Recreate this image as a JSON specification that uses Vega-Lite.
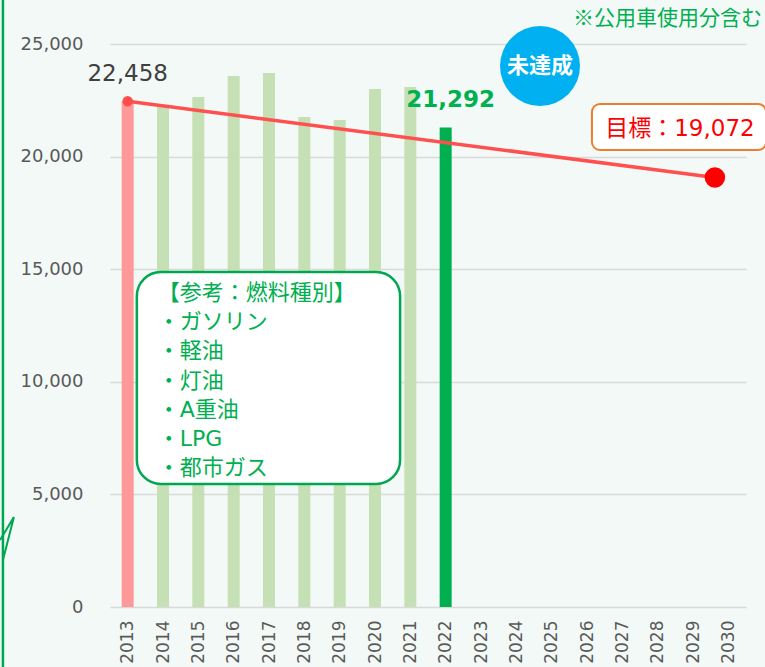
{
  "$schema": "https://vega.github.io/schema/vega-lite/v6.json",
  "width": 636,
  "height": 563,
  "autosize": {"type": "none"},
  "padding": {"left": 110, "top": 44, "right": 19, "bottom": 60},
  "background": "#f3f9f6",
  "config": {"view": {"stroke": null}, "font": "DejaVu Sans"},
  "datasets": {
    "bars": [
      {"year": 2013, "value": 22458, "kind": "基準年"},
      {"year": 2014, "value": 22200, "kind": "実績"},
      {"year": 2015, "value": 22650, "kind": "実績"},
      {"year": 2016, "value": 23580, "kind": "実績"},
      {"year": 2017, "value": 23710, "kind": "実績"},
      {"year": 2018, "value": 21760, "kind": "実績"},
      {"year": 2019, "value": 21620, "kind": "実績"},
      {"year": 2020, "value": 23000, "kind": "実績"},
      {"year": 2021, "value": 23090, "kind": "実績"},
      {"year": 2022, "value": 21292, "kind": "最新"}
    ],
    "goal": [
      {"year": 2013, "value": 22458},
      {"year": 2029.62, "value": 19072}
    ]
  },
  "encoding": {
    "x": {
      "field": "year",
      "type": "quantitative",
      "title": null,
      "scale": {"domain": [2012.5, 2030.5], "nice": false, "zero": false, "padding": 0},
      "axis": {
        "values": [2013, 2014, 2015, 2016, 2017, 2018, 2019, 2020, 2021, 2022, 2023, 2024, 2025, 2026, 2027, 2028, 2029, 2030],
        "format": "d",
        "labelAngle": -90,
        "labelFont": "DejaVu Sans",
        "labelFontSize": 17,
        "labelColor": "#595959",
        "labelPadding": 13,
        "ticks": false,
        "domain": false,
        "grid": false,
        "labelFlush": false,
        "labelOverlap": false
      }
    },
    "y": {
      "field": "value",
      "type": "quantitative",
      "title": null,
      "scale": {"domain": [0, 25000], "nice": false, "padding": 0},
      "axis": {
        "values": [0, 5000, 10000, 15000, 20000, 25000],
        "format": ",.0f",
        "labelFont": "DejaVu Sans",
        "labelFontSize": 18,
        "labelColor": "#595959",
        "labelPadding": 27,
        "ticks": false,
        "domain": false,
        "grid": true,
        "gridColor": "#d9d9d9",
        "gridWidth": 1.5
      }
    }
  },
  "layer": [
    {
      "data": {"name": "bars"},
      "mark": {"type": "bar", "size": 12, "orient": "vertical"},
      "encoding": {
        "color": {
          "field": "kind",
          "type": "nominal",
          "scale": {"domain": ["基準年", "実績", "最新"], "range": ["#ff9999", "#c5e0b4", "#00b050"]},
          "legend": null
        }
      }
    },
    {
      "data": {"values": [
        {"year": 2009.47, "value": 26954, "o": 1},
        {"year": 2009.47, "value": -2664, "o": 2}
      ]},
      "mark": {"type": "line", "color": "#00a651", "strokeWidth": 2.5, "clip": false},
      "encoding": {"order": {"field": "o", "type": "quantitative"}}
    },
    {
      "data": {"values": [
        {"year": 2009.39, "value": 2975, "o": 1},
        {"year": 2009.78, "value": 3996, "o": 2},
        {"year": 2009.47, "value": 2087, "o": 3}
      ]},
      "mark": {"type": "line", "color": "#00a651", "strokeWidth": 2, "clip": false},
      "encoding": {"order": {"field": "o", "type": "quantitative"}}
    },
    {
      "data": {"name": "goal"},
      "mark": {"type": "line", "color": "#ff5050", "strokeWidth": 3.5},
      "encoding": {}
    },
    {
      "data": {"values": [{"year": 2013, "value": 22458}]},
      "mark": {"type": "point", "filled": true, "color": "#ff4d4d", "size": 110, "opacity": 1},
      "encoding": {}
    },
    {
      "data": {"values": [{"year": 2029.62, "value": 19072}]},
      "mark": {"type": "point", "filled": true, "color": "#ff0000", "size": 420, "opacity": 1},
      "encoding": {}
    },
    {
      "data": {"values": [{"year": 2013, "value": 22458, "label": "22,458"}]},
      "mark": {"type": "text", "font": "DejaVu Sans", "fontSize": 23, "color": "#404040", "align": "center", "baseline": "alphabetic", "dy": -20},
      "encoding": {"text": {"field": "label", "type": "nominal"}}
    },
    {
      "data": {"values": [{"year": 2022, "value": 21292, "label": "21,292"}]},
      "mark": {"type": "text", "font": "DejaVu Sans", "fontSize": 23, "fontWeight": "bold", "color": "#00b050", "align": "center", "baseline": "alphabetic", "dx": 5, "dy": -21},
      "encoding": {"text": {"field": "label", "type": "nominal"}}
    },
    {
      "data": {"values": [{"year": 2024.67, "value": 24023}]},
      "mark": {"type": "point", "filled": true, "color": "#00b0f0", "size": 6400, "opacity": 1, "clip": false},
      "encoding": {}
    },
    {
      "data": {"values": [{"year": 2024.67, "value": 24023, "label": "未達成"}]},
      "mark": {"type": "text", "font": "Noto Sans CJK JP", "fontSize": 22, "fontWeight": "bold", "color": "#ffffff", "align": "center", "baseline": "middle"},
      "encoding": {"text": {"field": "label", "type": "nominal"}}
    },
    {
      "data": {"values": [{"year": 2030.95, "value": 25840, "label": "※公用車使用分含む"}]},
      "mark": {"type": "text", "font": "Noto Sans CJK JP", "fontSize": 21, "color": "#00b050", "align": "right", "baseline": "alphabetic"},
      "encoding": {"text": {"field": "label", "type": "nominal"}}
    },
    {
      "data": {"values": [{"year": 2026.14, "year2": 2031.07, "value": 22336, "value2": 20293}]},
      "mark": {"type": "rect", "fill": "#ffffff", "stroke": "#ed7d31", "strokeWidth": 2, "cornerRadius": 8, "clip": false},
      "encoding": {"x2": {"field": "year2"}, "y2": {"field": "value2"}}
    },
    {
      "data": {"values": [{"year": 2028.63, "value": 20915, "label": "目標：19,072"}]},
      "mark": {"type": "text", "font": "DejaVu Sans, Noto Sans CJK JP", "fontSize": 23, "color": "#ff0000", "align": "center", "baseline": "alphabetic"},
      "encoding": {"text": {"field": "label", "type": "nominal"}}
    },
    {
      "data": {"values": [{"year": 2013.26, "year2": 2020.71, "value": 14876, "value2": 5462}]},
      "mark": {"type": "rect", "fill": "#ffffff", "stroke": "#00a651", "strokeWidth": 2.5, "cornerRadius": 24},
      "encoding": {"x2": {"field": "year2"}, "y2": {"field": "value2"}}
    },
    {
      "data": {"values": [{"year": 2013.85, "value": 13632, "label": "【参考：燃料種別】\n・ガソリン\n・軽油\n・灯油\n・A重油\n・LPG\n・都市ガス"}]},
      "mark": {"type": "text", "font": "DejaVu Sans, Noto Sans CJK JP", "fontSize": 22, "color": "#00b050", "align": "left", "baseline": "alphabetic", "lineBreak": "\n", "lineHeight": 29.2},
      "encoding": {"text": {"field": "label", "type": "nominal"}}
    }
  ]
}
